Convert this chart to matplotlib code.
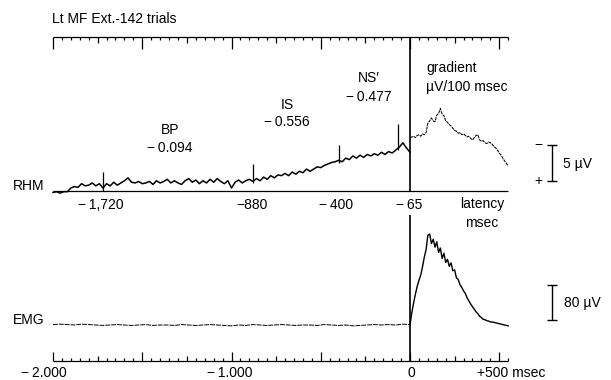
import numpy as np
import matplotlib
matplotlib.use("Agg")
import matplotlib.pyplot as plt

plt.rcParams["font.family"] = ["Liberation Sans", "DejaVu Sans"]
plt.rcParams["font.size"] = 10

# RHM readiness potential, microvolts (negative up), every 20 msec from -2000 to 0
rhm_pre = [0.2, 0.1, 0.3, 0.1, 0.1, -0.4, -0.6, -0.5, -1.0, -0.7,
           -0.8, -1.1, -0.7, -1.0, -0.4, -1.0, -0.7, -1.2, -0.8, -1.1,
           -1.4, -1.8, -1.2, -1.1, -1.3, -1.0, -1.1, -1.3, -0.9, -1.4,
           -1.1, -1.3, -1.6, -1.1, -1.4, -1.1, -0.9, -1.4, -1.7, -1.2,
           -1.5, -1.0, -1.4, -1.1, -1.6, -1.2, -1.7, -1.3, -1.0, -1.4,
           -0.4, -1.2, -1.5, -1.1, -1.4, -1.6, -1.3, -1.7, -1.4, -1.9,
           -1.6, -2.1, -1.8, -2.2, -2.1, -2.4, -2.1, -2.6, -2.3, -2.7,
           -2.5, -3.0, -2.7, -3.0, -3.3, -3.2, -3.5, -3.7, -3.9, -4.0,
           -4.2, -4.0, -4.5, -4.3, -4.8, -4.5, -4.9, -4.6, -5.0, -4.8,
           -5.1, -4.9, -5.3, -5.0, -5.4, -5.2, -5.6, -6.0, -6.6, -5.9,
           -5.3]
# RHM after movement onset, every 10 msec from 0 to 550
rhm_post = [-7.3, -7.4, -7.5, -7.3, -7.6, -7.7, -7.5, -7.8, -7.7, -8.0,
            -9.3, -9.6, -10.0, -9.6, -9.5, -10.4, -10.6, -11.3, -10.5, -10.3,
            -9.6, -9.4, -9.1, -8.9, -8.6, -8.3, -8.2, -7.9, -8.0, -7.7,
            -7.8, -7.6, -7.4, -7.5, -7.2, -7.0, -7.3, -7.6, -7.7, -7.0,
            -6.8, -6.9, -6.6, -6.5, -6.7, -6.6, -6.4, -6.1, -5.9, -5.6,
            -5.2, -4.9, -4.5, -4.1, -3.8, -3.4]

# EMG, microvolts, every 40 msec from -2000 to 0, then every 10 msec to 550
emg_pre = [1, 2, 1, 0, 2, 1, 0, -1, 0, 1, 0, -1, 0, 1, -1, 0, 0, -1, 1, 0,
           -1, 0, 1, 0, -1, -2, 0, -1, 1, 0, -1, 0, 1, 0, -1, 0, 0, -1, 1, 0,
           -1, 0, -2, -1, 0, 1, 0, 1, 0, 2, 1]
emg_post = [0, 28, 50, 70, 88, 102, 114, 133, 155, 172,
            205, 208, 186, 196, 178, 190, 166, 176, 152, 164,
            143, 150, 134, 142, 124, 126, 108, 104, 92, 86,
            78, 72, 62, 55, 48, 42, 36, 30, 26, 20,
            17, 13, 12, 10, 9, 7, 7, 6, 5, 4,
            3, 2, 1, 0, -1, -2]

# latency marks on the RHM trace
mark_ms = [-1720, -880, -400, -65]
mark_lo = [0.0, -1.1, -3.9, -5.6]
mark_hi = [-2.6, -3.7, -6.3, -9.2]
mark_labels = ["\u2212\u20091,720", "\u2212880", "\u2212\u2009400", "\u2212\u200965"]

# components with gradient (uV / 100 msec)
comp_names = ["BP", "IS", "NS\u2032"]
comp_grad = ["\u2212\u20090.094", "\u2212\u20090.556", "\u2212\u20090.477"]

t_rhm_pre = np.arange(-2000, 1, 20)
t_post = np.arange(0, 551, 10)
t_emg_pre = np.arange(-2000, 1, 40)

fig = plt.figure(figsize=(6.11, 3.8), dpi=100)
xlim = (-2297, 1126)

# RHM panel (uV, negative up)
ax1 = fig.add_axes([0, 0, 1, 1])
ax1.set_xlim(*xlim)
ax1.set_ylim(25.89, -26.16)
ax1.set_axis_off()

# EMG panel (uV, positive up)
ax2 = fig.add_axes([0, 0, 1, 1])
ax2.set_xlim(*xlim)
ax2.set_ylim(-125.7, 742.9)
ax2.set_axis_off()

k = "black"

# top ruler
ruler_y = -21.1
ax1.hlines(ruler_y, -2000, 550, color=k, lw=0.9)
for t in range(-2000, 551, 50):
    if t % 500 == 0:
        L = 1.64
    elif t % 250 == 0:
        L = 0.82
    else:
        L = 0.41
    ax1.vlines(t, ruler_y, ruler_y + L, color=k, lw=0.9)

# bottom ruler
bruler_y = -82.3
ax2.hlines(bruler_y, -2000, 550, color=k, lw=0.9)
for t in range(-2000, 551, 50):
    if t % 500 == 0:
        L = 20.6
    elif t % 250 == 0:
        L = 11.4
    else:
        L = 6.9
    ax2.vlines(t, bruler_y, bruler_y + L, color=k, lw=0.9)

# movement onset line
ax1.vlines(0, ruler_y, 0, color=k, lw=1.2)
ax2.vlines(0, bruler_y, 251, color=k, lw=1.2)

# RHM
ax1.hlines(0, -2000, 550, color=k, lw=0.9)
ax1.plot(t_rhm_pre, rhm_pre, color=k, lw=1.1)
ax1.plot(t_post, rhm_post, color=k, lw=0.75, ls=(0, (3, 0.8)))
ax1.vlines(mark_ms, mark_lo, mark_hi, color=k, lw=0.9)

# EMG
ax2.plot(t_emg_pre, emg_pre, color=k, lw=0.7, ls=(0, (5, 1)))
ax2.plot(t_post, emg_post, color=k, lw=1.0)

# scale bars
ax1.vlines(795, -6.3, -1.3, color=k, lw=1.0)
ax1.hlines([-6.3, -1.3], 767, 823, color=k, lw=1.0)
ax2.vlines(795, 11, 91, color=k, lw=1.0)
ax2.hlines([11, 91], 767, 823, color=k, lw=1.0)

# texts
ax1.text(-2006, -23.56, "Lt MF Ext.-142 trials", ha="left", va="center")
ax1.text(-2224, -0.68, "RHM", ha="left", va="center")
ax2.text(-2224, 11.4, "EMG", ha="left", va="center")

comp_x = [-1345, -690, -230]
name_y = [-8.36, -11.78, -15.48]
grad_y = [-5.89, -9.45, -12.88]
for name, g, x, ny, gy in zip(comp_names, comp_grad, comp_x, name_y, grad_y):
    ax1.text(x, ny, name, ha="center", va="center")
    ax1.text(x, gy, g, ha="center", va="center")

ax1.text(90, -16.85, "gradient", ha="left", va="center")
ax1.text(90, -14.25, "\u00b5V/100 msec", ha="left", va="center")

mark_label_x = [-1731, -885, -415, -6]
for lab, x in zip(mark_labels, mark_label_x):
    ax1.text(x, 1.92, lab, ha="center", va="center")
ax1.text(403, 1.78, "latency", ha="center", va="center")
ax1.text(403, 4.38, "msec", ha="center", va="center")

ax1.text(717, -6.3, "\u2212", ha="center", va="center")
ax1.text(717, -1.37, "+", ha="center", va="center")
ax1.text(857, -3.7, "5 \u00b5V", ha="left", va="center")
ax2.text(863, 50.3, "80 \u00b5V", ha="left", va="center")

ax2.text(-2050, -109.7, "\u2212\u20092.000", ha="center", va="center")
ax2.text(-1010, -109.7, "\u2212\u20091.000", ha="center", va="center")
ax2.text(6, -109.7, "0", ha="center", va="center")
ax2.text(375, -109.7, "+500 msec", ha="left", va="center")

fig.savefig("out.png", dpi=100)
